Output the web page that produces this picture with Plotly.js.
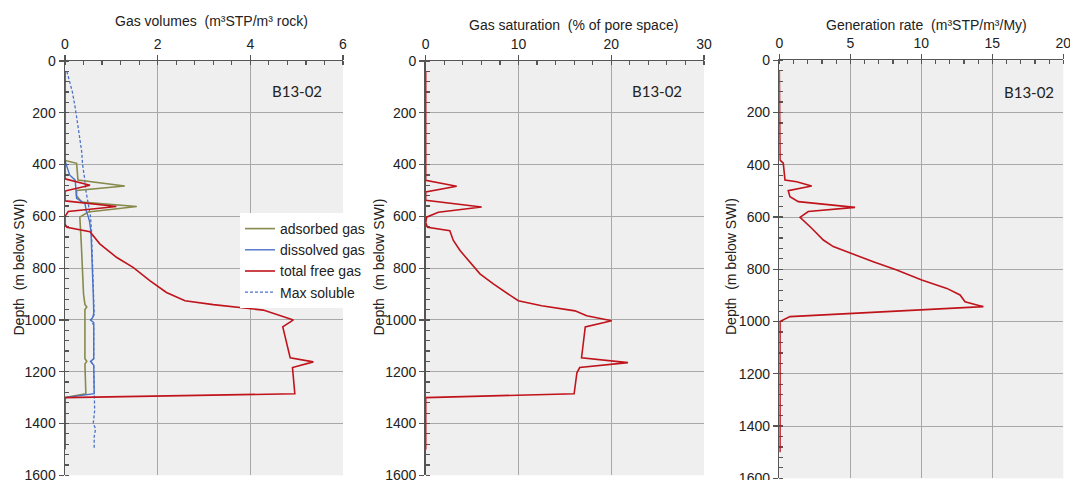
<!DOCTYPE html>
<html>
<head>
<meta charset="utf-8">
<script src="https://cdn.plot.ly/plotly-3.0.1.min.js"></script>
<style>html,body{margin:0;padding:0;background:#fff;}#chart{width:1070px;height:480px;}</style>
</head>
<body>
<div id="chart"></div>
<script>
// ---------- data ----------
var depthTicks = [0, 200, 400, 600, 800, 1000, 1200, 1400, 1600];
var gasTicks = [0, 2, 4, 6];
var satTicks = [0, 10, 20, 30];
var genTicks = [0, 5, 10, 15, 20];
var wellLabel = "B13-02";

// Panel 1: gas volumes
var maxSolDepth = [40, 80, 120, 180, 250, 300, 350, 400, 450, 500, 550, 600, 650, 700, 800, 900, 980, 1000, 1020, 1150, 1160, 1175, 1300, 1350, 1400, 1420, 1450, 1500];
var maxSol = [0.04, 0.1, 0.16, 0.22, 0.27, 0.32, 0.36, 0.38, 0.42, 0.45, 0.5, 0.55, 0.57, 0.58, 0.6, 0.62, 0.63, 0.56, 0.62, 0.62, 0.56, 0.62, 0.64, 0.64, 0.61, 0.66, 0.63, 0.63];

var dissolvedDepth = [385, 400, 440, 460, 480, 500, 530, 550, 580, 600, 620, 660, 700, 800, 900, 975, 990, 1000, 1010, 1150, 1160, 1175, 1285, 1300];
var dissolved = [0, 0.03, 0.1, 0.22, 0.23, 0.24, 0.25, 0.43, 0.46, 0.5, 0.53, 0.56, 0.57, 0.59, 0.61, 0.62, 0.6, 0.55, 0.62, 0.62, 0.55, 0.62, 0.63, 0];

var adsorbedDepth = [384, 395, 460, 483, 500, 520, 545, 562, 583, 603, 700, 800, 900, 940, 950, 960, 1000, 1150, 1160, 1170, 1285, 1300];
var adsorbed = [0, 0.25, 0.28, 1.29, 0.25, 0.25, 0.36, 1.55, 0.5, 0.32, 0.35, 0.37, 0.4, 0.43, 0.47, 0.43, 0.43, 0.43, 0.47, 0.43, 0.45, 0];

var freeGasDepth = [40, 455, 480, 502, 540, 562, 581, 600, 630, 642, 659, 706, 758, 797, 848, 894, 926, 941, 962, 1000, 1027, 1146, 1162, 1184, 1285, 1300, 1500];
var freeGas = [0, 0, 0.54, 0, 0, 1.11, 0.07, 0, 0, 0.04, 0.54, 0.75, 1.11, 1.47, 1.83, 2.19, 2.59, 3.2, 4.28, 4.93, 4.7, 4.86, 5.36, 4.91, 4.96, 0, 0];

// Panel 2: gas saturation
var satDepth = [40, 461, 484, 506, 538, 564, 584, 603, 625, 642, 655, 693, 732, 777, 822, 861, 894, 926, 945, 965, 984, 1003, 1027, 1146, 1165, 1184, 1204, 1285, 1300, 1500];
var saturation = [0, 0, 3.34, 0, 0, 6.03, 1.36, 0.1, 0, 0.2, 2.6, 2.98, 3.7, 4.78, 5.85, 7.29, 8.73, 9.98, 12.5, 16.1, 17.35, 20.05, 17.2, 16.8, 21.8, 16.6, 16.3, 16.0, 0, 0];

// Panel 3: generation rate
var genDepth = [40, 382, 394, 458, 465, 481, 499, 522, 541, 563, 579, 601, 643, 688, 713, 739, 771, 803, 841, 873, 898, 924, 943, 981, 1000, 1500];
var genRate = [0, 0.05, 0.28, 0.4, 1.22, 2.28, 0.63, 0.75, 1.34, 5.33, 2.04, 1.46, 2.28, 3.1, 3.8, 5.0, 6.62, 8.27, 10.03, 11.8, 12.73, 13.08, 14.37, 0.75, 0.05, 0.05];

// ---------- styles ----------
var cRed = "#c0141c", cBlue = "#4a72c8", cOlive = "#878a4c";
var FONT = "Liberation Sans, Arial, sans-serif";

var traces = [
  {x: maxSol, y: maxSolDepth, xaxis: "x", yaxis: "y", name: "Max soluble", legendrank: 4,
   mode: "lines", line: {color: cBlue, width: 1.3, dash: "3px,2px"}},
  {x: adsorbed, y: adsorbedDepth, xaxis: "x", yaxis: "y", name: "adsorbed gas", legendrank: 1,
   mode: "lines", line: {color: cOlive, width: 1.6}},
  {x: dissolved, y: dissolvedDepth, xaxis: "x", yaxis: "y", name: "dissolved gas", legendrank: 2,
   mode: "lines", line: {color: cBlue, width: 1.4}},
  {x: freeGas, y: freeGasDepth, xaxis: "x", yaxis: "y", name: "total free gas", legendrank: 3,
   mode: "lines", line: {color: cRed, width: 1.6}},
  {x: saturation, y: satDepth, xaxis: "x2", yaxis: "y2", showlegend: false,
   mode: "lines", line: {color: cRed, width: 1.6}},
  {x: genRate, y: genDepth, xaxis: "x3", yaxis: "y3", showlegend: false,
   mode: "lines", line: {color: cRed, width: 1.6}}
];

function xax(dom, anchor, ticks, maxv, minorStep) {
  return {
    domain: dom, anchor: anchor, side: "top", range: [0, maxv],
    tickvals: ticks, ticktext: ticks.map(String),
    ticks: "outside", ticklen: 5, tickwidth: 1.2, tickcolor: "#555",
    showline: true, linecolor: "#555", linewidth: 1.5, layer: "below traces",
    showgrid: true, gridcolor: "#a8a8a8", gridwidth: 1,
    zeroline: false, tickfont: {family: FONT, size: 14, color: "#222"},
    ticklabeloverflow: "allow",
    minor: {dtick: minorStep, ticks: "inside", ticklen: 4, tickcolor: "#555", showgrid: false},
    fixedrange: true
  };
}
function yax(dom, anchor) {
  return {
    domain: dom, anchor: anchor, range: [1600, 0],
    tickvals: depthTicks, ticktext: depthTicks.map(String),
    ticks: "outside", ticklen: 5, tickwidth: 1.2, tickcolor: "#555",
    showline: true, linecolor: "#555", linewidth: 1.5, layer: "below traces",
    showgrid: true, gridcolor: "#a8a8a8", gridwidth: 1,
    zeroline: false, tickfont: {family: FONT, size: 14, color: "#222"},
    ticklabeloverflow: "allow",
    minor: {dtick: 40, ticks: "inside", ticklen: 4, tickcolor: "#555", showgrid: false},
    fixedrange: true
  };
}

var yDom12 = [0.0098, 0.8729];
var yDom3 = [0.0035, 0.8744];

var annots = [];
function title(text, xpx, ypx) {
  annots.push({text: text, xref: "paper", yref: "paper", x: xpx / 1070, y: 1 - ypx / 480,
    xanchor: "center", yanchor: "middle", showarrow: false,
    font: {family: FONT, size: 14, color: "#222"}});
}
function ytitle(xpx) {
  annots.push({text: "Depth\u00a0 (m below SWI)", xref: "paper", yref: "paper", x: xpx / 1070, y: 1 - 267 / 480,
    xanchor: "center", yanchor: "middle", textangle: -90, showarrow: false,
    font: {family: FONT, size: 14, color: "#222"}});
}
title("Gas volumes\u00a0 (m\u00b3STP/m\u00b3 rock)", 211, 21);
title("Gas saturation\u00a0 (% of pore space)", 573, 25);
title("Generation rate\u00a0 (m\u00b3STP/m\u00b3/My)", 926, 25);
ytitle(18.5); ytitle(378.5); ytitle(731);
[["x", "y", 5.01, 116], ["x2", "y2", 24.9, 115], ["x3", "y3", 17.6, 120]].forEach(function (a) {
  annots.push({text: wellLabel, xref: a[0], yref: a[1], x: a[2], y: a[3],
    xanchor: "center", yanchor: "middle", showarrow: false,
    font: {family: "Lato, Open Sans, sans-serif", size: 15, color: "#222"}});
});

var layout = {
  width: 1070, height: 480,
  margin: {l: 0, r: 0, t: 0, b: 0},
  paper_bgcolor: "#ffffff", plot_bgcolor: "#efefef",
  showlegend: true,
  legend: {x: 240 / 1070, y: 1 - 213 / 480, xanchor: "left", yanchor: "top",
    bgcolor: "#ffffff", borderwidth: 0, itemwidth: 30,
    font: {family: FONT, size: 14, color: "#222"}},
  xaxis: xax([0.06075, 0.32056], "y", gasTicks, 6, 0.4),
  yaxis: yax(yDom12, "x"),
  xaxis2: xax([0.39785, 0.65794], "y2", satTicks, 30, 2),
  yaxis2: yax(yDom12, "x2"),
  xaxis3: xax([0.72832, 0.99374], "y3", genTicks, 20, 1),
  yaxis3: yax(yDom3, "x3"),
  annotations: annots
};

Plotly.newPlot("chart", traces, layout, {displayModeBar: false, staticPlot: true});
</script>
</body>
</html>
